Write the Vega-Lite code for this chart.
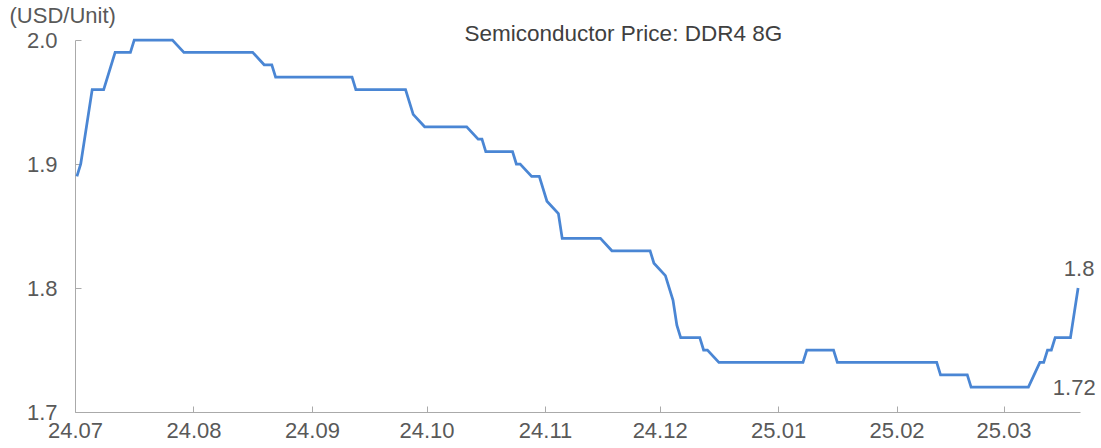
{
  "$schema": "https://vega.github.io/schema/vega-lite/v6.json",
  "width": 1005,
  "height": 372,
  "autosize": {"type": "none"},
  "padding": {"left": 75, "top": 40, "right": 21, "bottom": 36},
  "background": "white",
  "config": {"view": {"stroke": null}, "font": "Liberation Sans"},
  "datasets": {
    "price": [
      {"date": "2024-07-01", "value": 1.89},
      {"date": "2024-07-02", "value": 1.90},
      {"date": "2024-07-05", "value": 1.96},
      {"date": "2024-07-08", "value": 1.96},
      {"date": "2024-07-11", "value": 1.99},
      {"date": "2024-07-15", "value": 1.99},
      {"date": "2024-07-16", "value": 2.00},
      {"date": "2024-07-26", "value": 2.00},
      {"date": "2024-07-29", "value": 1.99},
      {"date": "2024-08-16", "value": 1.99},
      {"date": "2024-08-19", "value": 1.98},
      {"date": "2024-08-21", "value": 1.98},
      {"date": "2024-08-22", "value": 1.97},
      {"date": "2024-09-11", "value": 1.97},
      {"date": "2024-09-12", "value": 1.96},
      {"date": "2024-09-25", "value": 1.96},
      {"date": "2024-09-27", "value": 1.94},
      {"date": "2024-09-30", "value": 1.93},
      {"date": "2024-10-11", "value": 1.93},
      {"date": "2024-10-14", "value": 1.92},
      {"date": "2024-10-15", "value": 1.92},
      {"date": "2024-10-16", "value": 1.91},
      {"date": "2024-10-23", "value": 1.91},
      {"date": "2024-10-24", "value": 1.90},
      {"date": "2024-10-25", "value": 1.90},
      {"date": "2024-10-28", "value": 1.89},
      {"date": "2024-10-30", "value": 1.89},
      {"date": "2024-11-01", "value": 1.87},
      {"date": "2024-11-04", "value": 1.86},
      {"date": "2024-11-05", "value": 1.84},
      {"date": "2024-11-15", "value": 1.84},
      {"date": "2024-11-18", "value": 1.83},
      {"date": "2024-11-28", "value": 1.83},
      {"date": "2024-11-29", "value": 1.82},
      {"date": "2024-12-02", "value": 1.81},
      {"date": "2024-12-04", "value": 1.79},
      {"date": "2024-12-05", "value": 1.77},
      {"date": "2024-12-06", "value": 1.76},
      {"date": "2024-12-11", "value": 1.76},
      {"date": "2024-12-12", "value": 1.75},
      {"date": "2024-12-13", "value": 1.75},
      {"date": "2024-12-16", "value": 1.74},
      {"date": "2025-01-07", "value": 1.74},
      {"date": "2025-01-08", "value": 1.75},
      {"date": "2025-01-15", "value": 1.75},
      {"date": "2025-01-16", "value": 1.74},
      {"date": "2025-02-11", "value": 1.74},
      {"date": "2025-02-12", "value": 1.73},
      {"date": "2025-02-19", "value": 1.73},
      {"date": "2025-02-20", "value": 1.72},
      {"date": "2025-03-07", "value": 1.72},
      {"date": "2025-03-10", "value": 1.74},
      {"date": "2025-03-11", "value": 1.74},
      {"date": "2025-03-12", "value": 1.75},
      {"date": "2025-03-13", "value": 1.75},
      {"date": "2025-03-14", "value": 1.76},
      {"date": "2025-03-18", "value": 1.76},
      {"date": "2025-03-20", "value": 1.80}
    ]
  },
  "layer": [
    {
      "data": {"name": "price"},
      "mark": {"type": "line", "color": "#4a86d4", "strokeWidth": 2.75, "clip": false},
      "encoding": {
        "x": {
          "field": "date",
          "type": "temporal",
          "timeUnit": "utcyearmonthdate",
          "bandPosition": 0.5,
          "scale": {"domain": [
            {"year": 2024, "month": 7, "date": 1, "utc": true},
            {"year": 2025, "month": 3, "date": 21, "utc": true}
          ]},
          "axis": {
            "title": null,
            "grid": false,
            "format": "%y.%m",
            "values": [
              {"year": 2024, "month": 7, "date": 1, "utc": true},
              {"year": 2024, "month": 8, "date": 1, "utc": true},
              {"year": 2024, "month": 9, "date": 1, "utc": true},
              {"year": 2024, "month": 10, "date": 1, "utc": true},
              {"year": 2024, "month": 11, "date": 1, "utc": true},
              {"year": 2024, "month": 12, "date": 1, "utc": true},
              {"year": 2025, "month": 1, "date": 1, "utc": true},
              {"year": 2025, "month": 2, "date": 1, "utc": true},
              {"year": 2025, "month": 3, "date": 1, "utc": true}
            ],
            "domainColor": "#aaaaaa",
            "tickColor": "#aaaaaa",
            "tickSize": -6,
            "labelFontSize": 22,
            "labelColor": "#595959",
            "labelBaseline": "alphabetic",
            "labelPadding": 31,
            "labelFlush": false,
            "labelOverlap": false
          }
        },
        "y": {
          "field": "value",
          "type": "quantitative",
          "scale": {"domain": [1.7, 2.0], "zero": false, "nice": false},
          "axis": {
            "title": "(USD/Unit)",
            "titleAngle": 0,
            "titleAlign": "left",
            "titleBaseline": "alphabetic",
            "titleX": -66,
            "titleY": -18,
            "titleFontSize": 22,
            "titleFontWeight": "normal",
            "titleColor": "#595959",
            "grid": false,
            "values": [1.7, 1.8, 1.9, 2.0],
            "format": ".1f",
            "domainColor": "#aaaaaa",
            "tickColor": "#aaaaaa",
            "tickSize": -6,
            "labelFontSize": 22,
            "labelColor": "#595959",
            "labelPadding": 24
          }
        }
      }
    },
    {
      "data": {"values": [{"date": "2024-11-21", "value": 2.0, "label": "Semiconductor Price: DDR4 8G"}]},
      "mark": {"type": "text", "fontSize": 22.5, "color": "#404040", "baseline": "alphabetic", "align": "center", "dy": 1},
      "encoding": {
        "x": {"field": "date", "type": "temporal", "timeUnit": "utcyearmonthdate", "bandPosition": 0.5},
        "y": {"field": "value", "type": "quantitative"},
        "text": {"field": "label"}
      }
    },
    {
      "data": {"values": [{"date": "2025-03-20", "value": 1.8, "label": "1.8"}]},
      "mark": {"type": "text", "fontSize": 22, "color": "#595959", "baseline": "alphabetic", "align": "center", "dx": 1, "dy": -12},
      "encoding": {
        "x": {"field": "date", "type": "temporal", "timeUnit": "utcyearmonthdate", "bandPosition": 0.5},
        "y": {"field": "value", "type": "quantitative"},
        "text": {"field": "label"}
      }
    },
    {
      "data": {"values": [{"date": "2025-03-19", "value": 1.72, "label": "1.72"}]},
      "mark": {"type": "text", "fontSize": 22, "color": "#595959", "baseline": "alphabetic", "align": "center", "dy": 8},
      "encoding": {
        "x": {"field": "date", "type": "temporal", "timeUnit": "utcyearmonthdate", "bandPosition": 0.5},
        "y": {"field": "value", "type": "quantitative"},
        "text": {"field": "label"}
      }
    }
  ]
}
